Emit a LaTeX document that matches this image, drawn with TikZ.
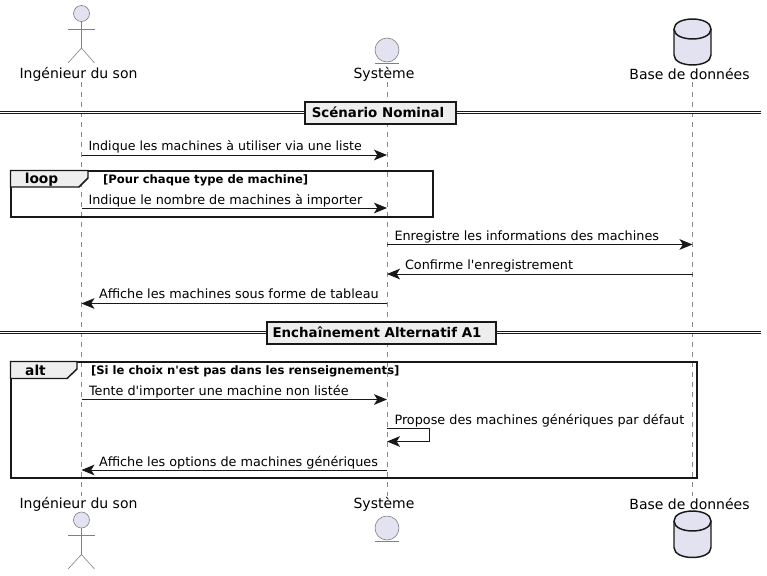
\documentclass[tikz,border=0pt]{standalone}
\usepackage{fontspec}
\setmainfont{DejaVu Sans}
\usepackage{tikz}
\usetikzlibrary{arrows.meta, positioning, calc}

\definecolor{partfill}{HTML}{E2E2F0}
\definecolor{partline}{HTML}{181818}
\definecolor{groupfill}{HTML}{EEEEEE}

\begin{document}
\begin{tikzpicture}[
        x=0.75pt, y=-0.75pt,
        partlabel/.style={inner sep=0pt, outer sep=0pt, font=\fontsize{10.5pt}{12pt}\selectfont},
        msglabel/.style={inner sep=0pt, outer sep=0pt, anchor=base west, font=\fontsize{9.6pt}{12pt}\selectfont},
        msg/.style={draw=partline, line width=0.75pt, -{Stealth[length=9.75pt, width=8pt, inset=2.5pt]}},
        lifeline/.style={draw=partline!50, line width=0.4pt, dash pattern=on 3.75pt off 3.75pt},
        actorhead/.style={circle, draw=partline!55, fill=partfill, line width=0.45pt, minimum size=12pt, inner sep=0pt, outer sep=0pt},
        actorbody/.style={draw=partline!55, line width=0.45pt},
        entity/.style={circle, draw=partline!55, fill=partfill, line width=0.45pt, minimum size=18pt, inner sep=0pt, outer sep=0pt},
        db/.style={draw=partline, fill=partfill, line width=1.1pt},
        divider/.style={draw=partline, fill=groupfill, line width=1.5pt, inner sep=0pt, outer sep=0pt, minimum height=16.5pt, font=\bfseries\fontsize{10.05pt}{12pt}\selectfont},
        doubleline/.style={draw=partline, line width=0.75pt},
        frame/.style={draw=partline, line width=1.5pt},
        tab/.style={draw=partline, fill=groupfill, line width=1.1pt},
        tablabel/.style={inner sep=0pt, outer sep=0pt, font=\bfseries\fontsize{10.3pt}{12pt}\selectfont},
        guard/.style={inner sep=0pt, outer sep=0pt, anchor=base west, font=\bfseries\fontsize{8.7pt}{10pt}\selectfont}
    ]
        \useasboundingbox (0, 0) rectangle (767, 575);

        % Lifelines
        \coordinate (son1) at (81.5, 82);
        \coordinate (son2) at (81.5, 496);
        \coordinate (sys1) at (387, 82);
        \coordinate (sys2) at (387, 496);
        \coordinate (bdd1) at (692.5, 82);
        \coordinate (bdd2) at (692.5, 496);
        \draw[lifeline] (son1) -- (son2);
        \draw[lifeline] (sys1) -- (sys2);
        \draw[lifeline] (bdd1) -- (bdd2);

        % Top participants
        \node[actorhead] (sonhead1) at (81.5, 13.5) {};
        \coordinate (sonhip1) at (81.5, 48);
        \draw[actorbody] (sonhead1) -- (sonhip1);
        \draw[actorbody] (68, 29) -- (94.5, 29);
        \draw[actorbody] (68, 63) -- (sonhip1) -- (94.5, 63);
        \node[partlabel] (sonlabel1) at (78.5, 74) {Ingénieur du son};
        \node[entity] (syshead1) at (387, 50) {};
        \draw[actorbody] (375, 62.8) -- (399, 62.8);
        \node[partlabel] (syslabel1) at (384, 74) {Système};
        \draw[db] (674, 29) .. controls (674, 15.7) and (711, 15.7) .. (711, 29) -- (711, 55)
            .. controls (711, 68.3) and (674, 68.3) .. (674, 55) -- cycle;
        \draw[db] (674, 29) .. controls (674, 42.3) and (711, 42.3) .. (711, 29);
        \node[partlabel] (bddlabel1) at (689.5, 74) {Base de données};

        % Scenario divider
        \coordinate (div1l) at (0, 112.5);
        \coordinate (div1r) at (761, 112.5);
        \draw[doubleline, double=white, double distance=1.1pt] (div1l) -- (div1r);
        \node[divider, minimum width=113pt] (div1) at (380.5, 112.5) {Scénario Nominal\kern3.75pt};

        % Messages 1 and 2
        \coordinate (m1a) at (81.5, 155);
        \coordinate (m1b) at (387, 155);
        \draw[msg] (m1a) -- (m1b);
        \node[msglabel, font=\fontsize{9.47pt}{12pt}\selectfont] (t1) at (88.5, 150) {Indique les machines à utiliser via une liste};

        \draw[frame] (10.5, 170.5) rectangle (432.5, 216.5);
        \draw[tab] (10.5, 187) -- (79, 187) -- (88, 178) -- (88, 170.5) -- (10.5, 170.5) -- cycle;
        \node[tablabel] (loop1) at (41.5, 180) {loop};
        \node[guard] (guard1) at (103, 183.5) {[Pour chaque type de machine]};

        \coordinate (m2a) at (81.5, 208);
        \coordinate (m2b) at (387, 208);
        \draw[msg] (m2a) -- (m2b);
        \node[msglabel] (t2) at (88.5, 204) {Indique le nombre de machines à importer};

        % Messages 3 to 5
        \coordinate (m3a) at (387, 244.5);
        \coordinate (m3b) at (692.5, 244.5);
        \draw[msg] (m3a) -- (m3b);
        \node[msglabel] (t3) at (394.5, 240) {Enregistre les informations des machines};

        \coordinate (m4a) at (692.5, 274);
        \coordinate (m4b) at (387, 274);
        \draw[msg] (m4a) -- (m4b);
        \node[msglabel] (t4) at (405, 269) {Confirme l\textquotesingle enregistrement};

        \coordinate (m5a) at (387, 303.5);
        \coordinate (m5b) at (81.5, 303.5);
        \draw[msg] (m5a) -- (m5b);
        \node[msglabel] (t5) at (99, 298) {Affiche les machines sous forme de tableau};

        % Alternative divider
        \coordinate (div2l) at (0, 332.5);
        \coordinate (div2r) at (761, 332.5);
        \draw[doubleline, double=white, double distance=1.1pt] (div2l) -- (div2r);
        \node[divider, minimum width=171.5pt] (div2) at (381.5, 332.5) {Enchaînement Alternatif A1\kern6.75pt};

        % Alternative frame
        \draw[frame] (10.5, 361.5) rectangle (697, 478);
        \draw[tab] (10.5, 378.5) -- (67, 378.5) -- (77, 369) -- (77, 361.5) -- (10.5, 361.5) -- cycle;
        \node[tablabel] (alt1) at (35.5, 370) {alt};
        \node[guard] (guard2) at (91, 374) {[Si le choix n\textquotesingle est pas dans les renseignements]};

        \coordinate (m6a) at (81.5, 399.5);
        \coordinate (m6b) at (387, 399.5);
        \draw[msg] (m6a) -- (m6b);
        \node[msglabel] (t6) at (89, 395) {Tente d\textquotesingle importer une machine non listée};

        \coordinate (m7a) at (387, 428.5);
        \coordinate (m7b) at (387, 441.5);
        \draw[msg] (m7a) -- (429.5, 428.5) -- (429.5, 441.5) -- (m7b);
        \node[msglabel] (t7) at (394.5, 424) {Propose des machines génériques par défaut};

        \coordinate (m8a) at (387, 470);
        \coordinate (m8b) at (81.5, 470);
        \draw[msg] (m8a) -- (m8b);
        \node[msglabel] (t8) at (99, 466) {Affiche les options de machines génériques};

        % Bottom participants
        \node[partlabel] (sonlabel2) at (78.5, 504) {Ingénieur du son};
        \node[actorhead] (sonhead2) at (81.5, 520) {};
        \coordinate (sonhip2) at (81.5, 554.5);
        \draw[actorbody] (sonhead2) -- (sonhip2);
        \draw[actorbody] (68, 535) -- (94.5, 535);
        \draw[actorbody] (68, 569) -- (sonhip2) -- (94.5, 569);
        \node[partlabel] (syslabel2) at (384, 504) {Système};
        \node[entity] (syshead2) at (387, 528) {};
        \draw[actorbody] (375, 541) -- (399, 541);
        \node[partlabel] (bddlabel2) at (689.5, 504) {Base de données};
        \draw[db] (674, 521) .. controls (674, 507.7) and (711, 507.7) .. (711, 521) -- (711, 547.5)
            .. controls (711, 560.8) and (674, 560.8) .. (674, 547.5) -- cycle;
        \draw[db] (674, 521) .. controls (674, 534.3) and (711, 534.3) .. (711, 521);
    \end{tikzpicture}
\end{document}
